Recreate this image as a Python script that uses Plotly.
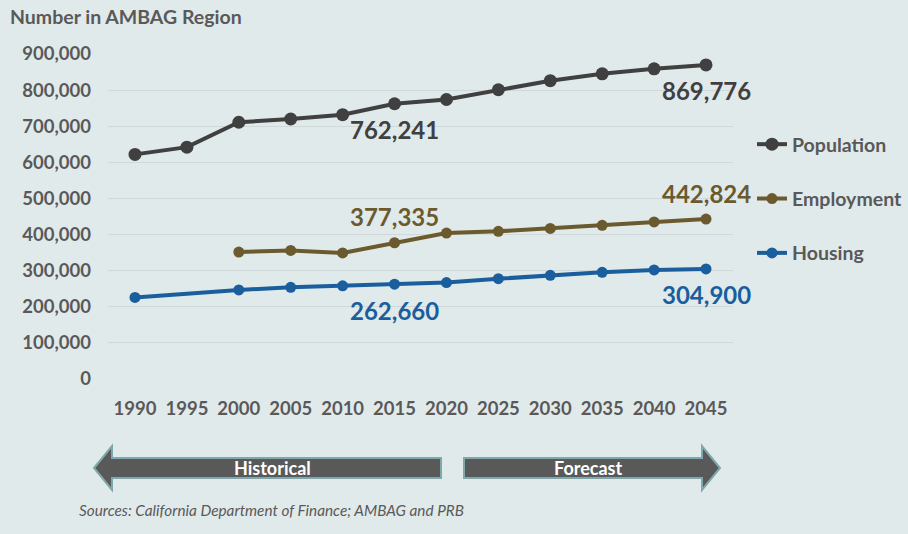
import plotly.graph_objects as go

years = [1990, 1995, 2000, 2005, 2010, 2015, 2020, 2025, 2030, 2035, 2040, 2045]
population = [622000, 642000, 711000, 720000, 732000, 762241, 774000, 801000, 826000, 845000, 859000, 869776]
emp_years = [2000, 2005, 2010, 2015, 2020, 2025, 2030, 2035, 2040, 2045]
employment = [351500, 356000, 349000, 377335, 404000, 409000, 417000, 425500, 435000, 442824]
hou_years = [1990, 2000, 2005, 2010, 2015, 2020, 2025, 2030, 2035, 2040, 2045]
housing = [226000, 246700, 254000, 258000, 262660, 267000, 277700, 287000, 295500, 302000, 304900]
y_ticks = [0, 100000, 200000, 300000, 400000, 500000, 600000, 700000, 800000, 900000]

BG = "#E1EAEB"
GRAY = "#595959"
C_POP = "#404040"
C_EMP = "#6B5A2E"
C_HOU = "#1A5E9E"
FONT = "Lato"

W, H = 908, 534
L, R, T, B = 108, 175, 54, 155
PW, PH = W - L - R, H - T - B


def px(x):
    return (x - L) / PW


def py(y):
    return (H - B - y) / PH


fig = go.Figure()
fig.add_trace(go.Scatter(x=years, y=population, name="Population", mode="lines+markers",
                         line=dict(color=C_POP, width=4), marker=dict(size=13, color=C_POP),
                         legendgroup="a"))
fig.add_trace(go.Scatter(x=emp_years, y=employment, name="Employment", mode="lines+markers",
                         line=dict(color=C_EMP, width=4), marker=dict(size=11, color=C_EMP),
                         legendgroup="b"))
fig.add_trace(go.Scatter(x=hou_years, y=housing, name="Housing", mode="lines+markers",
                         line=dict(color=C_HOU, width=4), marker=dict(size=11, color=C_HOU),
                         legendgroup="c"))

# data labels
labels = [
    (2015, 762241, C_POP, 26), (2045, 869776, C_POP, 26),
    (2015, 377335, C_EMP, -26), (2045, 442824, C_EMP, -26),
    (2015, 262660, C_HOU, 26), (2045, 304900, C_HOU, 26),
]
for x, v, c, dy in labels:
    fig.add_annotation(x=x, y=v, text=f"{v:,}", showarrow=False, xref="x", yref="y",
                       yshift=-dy, font=dict(family=FONT, size=24, color=c, weight="bold"))

fig.add_annotation(x=px(8), y=py(17), xref="paper", yref="paper", xanchor="left", yanchor="middle",
                   text="Number in AMBAG Region", showarrow=False,
                   font=dict(family=FONT, size=19.5, color=GRAY, weight="bold"))
fig.add_annotation(x=px(77), y=py(510), xref="paper", yref="paper", xanchor="left", yanchor="middle",
                   text="<i>Sources: California Department of Finance; AMBAG and PRB</i>", showarrow=False,
                   font=dict(family=FONT, size=15.3, color=GRAY))


def arrow_left(x0, x1, yc, hb, hh, hl):
    pts = [(x0, yc), (x0 + hl, yc - hh), (x0 + hl, yc - hb), (x1, yc - hb),
           (x1, yc + hb), (x0 + hl, yc + hb), (x0 + hl, yc + hh)]
    return "M " + " L ".join(f"{px(a):.5f},{py(b):.5f}" for a, b in pts) + " Z"


def arrow_right(x0, x1, yc, hb, hh, hl):
    pts = [(x1, yc), (x1 - hl, yc - hh), (x1 - hl, yc - hb), (x0, yc - hb),
           (x0, yc + hb), (x1 - hl, yc + hb), (x1 - hl, yc + hh)]
    return "M " + " L ".join(f"{px(a):.5f},{py(b):.5f}" for a, b in pts) + " Z"


yc = 468
fig.add_shape(type="path", path=arrow_left(94, 441, yc, 10, 22, 18), xref="paper", yref="paper",
              fillcolor=GRAY, line=dict(color="#7FA8AC", width=2))
fig.add_shape(type="path", path=arrow_right(464, 720, yc, 10, 22, 18), xref="paper", yref="paper",
              fillcolor=GRAY, line=dict(color="#7FA8AC", width=2))
fig.add_annotation(x=px(272), y=py(yc), xref="paper", yref="paper", text="Historical", showarrow=False,
                   xanchor="center", yanchor="middle",
                   font=dict(family=FONT, size=18, color="white", weight="bold"))
fig.add_annotation(x=px(588), y=py(yc), xref="paper", yref="paper", text="Forecast", showarrow=False,
                   xanchor="center", yanchor="middle",
                   font=dict(family=FONT, size=18, color="white", weight="bold"))

fig.update_layout(
    width=W, height=H, paper_bgcolor=BG, plot_bgcolor=BG,
    margin=dict(l=L, r=R, t=T, b=B, autoexpand=False),
    font=dict(family=FONT, color=GRAY),
    legend=dict(x=px(752), y=py(125), xanchor="left", yanchor="top",
                font=dict(family=FONT, size=19.5, color=GRAY, weight="bold"),
                tracegroupgap=26, itemwidth=30, bgcolor="rgba(0,0,0,0)"),
    xaxis=dict(range=[1987.4, 2047.6], tickvals=years, ticktext=[str(y) for y in years],
               showgrid=False, zeroline=False, showline=False, ticks="",
               tickfont=dict(family=FONT, size=18.5, color=GRAY, weight="bold"), ticklabelstandoff=16),
    yaxis=dict(range=[0, 900000], tickvals=y_ticks, ticktext=[f"{v:,}" for v in y_ticks],
               showgrid=True, gridcolor="#D0D8DA", gridwidth=1, zeroline=False, showline=False,
               tickfont=dict(family=FONT, size=18.5, color=GRAY, weight="bold"), ticklabelstandoff=16),
)

fig.write_html("out.html", config={"displayModeBar": False},
               post_script="document.body.style.margin='0';document.body.style.overflow='hidden';")
